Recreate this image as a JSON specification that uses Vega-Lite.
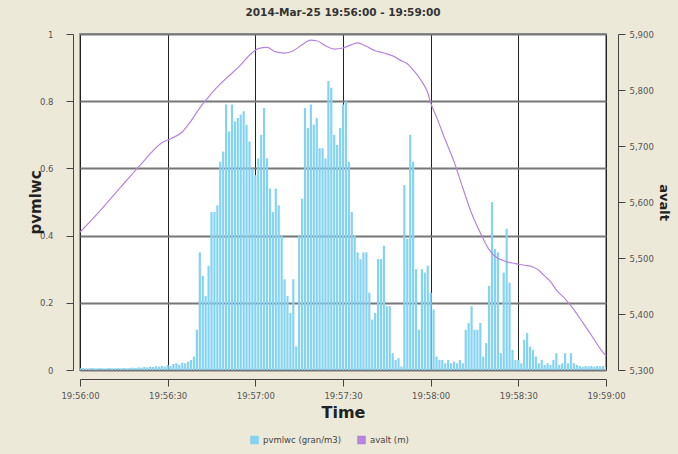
{
"$schema": "https://vega.github.io/schema/vega-lite/v6.json",
"width": 526,
"height": 336,
"autosize": {"type": "none"},
"padding": {"left": 80, "top": 34, "right": 72, "bottom": 84},
"background": "#ECE9D8",
"title": {"text": "2014-Mar-25 19:56:00 - 19:59:00", "fontSize": 10.5, "fontWeight": "bold", "font": "DejaVu Sans", "color": "#333", "offset": 12, "anchor": "middle"},
"config": {
  "view": {"fill": "white", "stroke": "#999", "strokeWidth": 2},
  "font": "DejaVu Sans",
  "axis": {"labelFont": "DejaVu Sans", "titleFont": "DejaVu Sans", "domainColor": "#444", "tickColor": "#444"}
},
"datasets": {
"pv": [
{"t":"2014-03-25T19:56:00","v":0.005},{"t":"2014-03-25T19:56:01","v":0.006},{"t":"2014-03-25T19:56:02","v":0.005},{"t":"2014-03-25T19:56:03","v":0.005},{"t":"2014-03-25T19:56:04","v":0.006},{"t":"2014-03-25T19:56:05","v":0.005},{"t":"2014-03-25T19:56:06","v":0.005},{"t":"2014-03-25T19:56:07","v":0.006},{"t":"2014-03-25T19:56:08","v":0.005},{"t":"2014-03-25T19:56:09","v":0.005},
{"t":"2014-03-25T19:56:10","v":0.006},{"t":"2014-03-25T19:56:11","v":0.005},{"t":"2014-03-25T19:56:12","v":0.005},{"t":"2014-03-25T19:56:13","v":0.006},{"t":"2014-03-25T19:56:14","v":0.005},{"t":"2014-03-25T19:56:15","v":0.006},{"t":"2014-03-25T19:56:16","v":0.005},{"t":"2014-03-25T19:56:17","v":0.006},{"t":"2014-03-25T19:56:18","v":0.007},{"t":"2014-03-25T19:56:19","v":0.006},
{"t":"2014-03-25T19:56:20","v":0.008},{"t":"2014-03-25T19:56:21","v":0.007},{"t":"2014-03-25T19:56:22","v":0.009},{"t":"2014-03-25T19:56:23","v":0.008},{"t":"2014-03-25T19:56:24","v":0.01},{"t":"2014-03-25T19:56:25","v":0.009},{"t":"2014-03-25T19:56:26","v":0.011},{"t":"2014-03-25T19:56:27","v":0.01},{"t":"2014-03-25T19:56:28","v":0.012},{"t":"2014-03-25T19:56:29","v":0.01},
{"t":"2014-03-25T19:56:30","v":0.015},{"t":"2014-03-25T19:56:31","v":0.012},{"t":"2014-03-25T19:56:32","v":0.018},{"t":"2014-03-25T19:56:33","v":0.02},{"t":"2014-03-25T19:56:34","v":0.016},{"t":"2014-03-25T19:56:35","v":0.022},{"t":"2014-03-25T19:56:36","v":0.02},{"t":"2014-03-25T19:56:37","v":0.025},{"t":"2014-03-25T19:56:38","v":0.03},{"t":"2014-03-25T19:56:39","v":0.04},
{"t":"2014-03-25T19:56:40","v":0.12},{"t":"2014-03-25T19:56:41","v":0.35},{"t":"2014-03-25T19:56:42","v":0.28},{"t":"2014-03-25T19:56:43","v":0.22},{"t":"2014-03-25T19:56:44","v":0.31},{"t":"2014-03-25T19:56:45","v":0.47},{"t":"2014-03-25T19:56:46","v":0.47},{"t":"2014-03-25T19:56:47","v":0.49},{"t":"2014-03-25T19:56:48","v":0.62},{"t":"2014-03-25T19:56:49","v":0.65},
{"t":"2014-03-25T19:56:50","v":0.79},{"t":"2014-03-25T19:56:51","v":0.71},{"t":"2014-03-25T19:56:52","v":0.79},{"t":"2014-03-25T19:56:53","v":0.74},{"t":"2014-03-25T19:56:54","v":0.75},{"t":"2014-03-25T19:56:55","v":0.76},{"t":"2014-03-25T19:56:56","v":0.77},{"t":"2014-03-25T19:56:57","v":0.73},{"t":"2014-03-25T19:56:58","v":0.68},{"t":"2014-03-25T19:56:59","v":0.6},
{"t":"2014-03-25T19:57:00","v":0.58},{"t":"2014-03-25T19:57:01","v":0.63},{"t":"2014-03-25T19:57:02","v":0.7},{"t":"2014-03-25T19:57:03","v":0.78},{"t":"2014-03-25T19:57:04","v":0.63},{"t":"2014-03-25T19:57:05","v":0.54},{"t":"2014-03-25T19:57:06","v":0.47},{"t":"2014-03-25T19:57:07","v":0.54},{"t":"2014-03-25T19:57:08","v":0.49},{"t":"2014-03-25T19:57:09","v":0.4},
{"t":"2014-03-25T19:57:10","v":0.27},{"t":"2014-03-25T19:57:11","v":0.22},{"t":"2014-03-25T19:57:12","v":0.17},{"t":"2014-03-25T19:57:13","v":0.27},{"t":"2014-03-25T19:57:14","v":0.07},{"t":"2014-03-25T19:57:15","v":0.4},{"t":"2014-03-25T19:57:16","v":0.51},{"t":"2014-03-25T19:57:17","v":0.78},{"t":"2014-03-25T19:57:18","v":0.72},{"t":"2014-03-25T19:57:19","v":0.79},
{"t":"2014-03-25T19:57:20","v":0.73},{"t":"2014-03-25T19:57:21","v":0.75},{"t":"2014-03-25T19:57:22","v":0.66},{"t":"2014-03-25T19:57:23","v":0.66},{"t":"2014-03-25T19:57:24","v":0.63},{"t":"2014-03-25T19:57:25","v":0.86},{"t":"2014-03-25T19:57:26","v":0.84},{"t":"2014-03-25T19:57:27","v":0.7},{"t":"2014-03-25T19:57:28","v":0.67},{"t":"2014-03-25T19:57:29","v":0.72},
{"t":"2014-03-25T19:57:30","v":0.79},{"t":"2014-03-25T19:57:31","v":0.8},{"t":"2014-03-25T19:57:32","v":0.62},{"t":"2014-03-25T19:57:33","v":0.47},{"t":"2014-03-25T19:57:34","v":0.4},{"t":"2014-03-25T19:57:35","v":0.35},{"t":"2014-03-25T19:57:36","v":0.33},{"t":"2014-03-25T19:57:37","v":0.35},{"t":"2014-03-25T19:57:38","v":0.35},{"t":"2014-03-25T19:57:39","v":0.23},
{"t":"2014-03-25T19:57:40","v":0.15},{"t":"2014-03-25T19:57:41","v":0.17},{"t":"2014-03-25T19:57:42","v":0.33},{"t":"2014-03-25T19:57:43","v":0.33},{"t":"2014-03-25T19:57:44","v":0.37},{"t":"2014-03-25T19:57:45","v":0.19},{"t":"2014-03-25T19:57:46","v":0.19},{"t":"2014-03-25T19:57:47","v":0.05},{"t":"2014-03-25T19:57:48","v":0.03},{"t":"2014-03-25T19:57:49","v":0.035},
{"t":"2014-03-25T19:57:50","v":0.01},{"t":"2014-03-25T19:57:51","v":0.55},{"t":"2014-03-25T19:57:52","v":0.39},{"t":"2014-03-25T19:57:53","v":0.7},{"t":"2014-03-25T19:57:54","v":0.62},{"t":"2014-03-25T19:57:55","v":0.3},{"t":"2014-03-25T19:57:56","v":0.12},{"t":"2014-03-25T19:57:57","v":0.3},{"t":"2014-03-25T19:57:58","v":0.29},{"t":"2014-03-25T19:57:59","v":0.31},
{"t":"2014-03-25T19:58:00","v":0.23},{"t":"2014-03-25T19:58:01","v":0.18},{"t":"2014-03-25T19:58:02","v":0.04},{"t":"2014-03-25T19:58:03","v":0.03},{"t":"2014-03-25T19:58:04","v":0.03},{"t":"2014-03-25T19:58:05","v":0.02},{"t":"2014-03-25T19:58:06","v":0.03},{"t":"2014-03-25T19:58:07","v":0.02},{"t":"2014-03-25T19:58:08","v":0.025},{"t":"2014-03-25T19:58:09","v":0.02},
{"t":"2014-03-25T19:58:10","v":0.03},{"t":"2014-03-25T19:58:11","v":0.02},{"t":"2014-03-25T19:58:12","v":0.12},{"t":"2014-03-25T19:58:13","v":0.14},{"t":"2014-03-25T19:58:14","v":0.19},{"t":"2014-03-25T19:58:15","v":0.12},{"t":"2014-03-25T19:58:16","v":0.12},{"t":"2014-03-25T19:58:17","v":0.14},{"t":"2014-03-25T19:58:18","v":0.04},{"t":"2014-03-25T19:58:19","v":0.08},
{"t":"2014-03-25T19:58:20","v":0.25},{"t":"2014-03-25T19:58:21","v":0.5},{"t":"2014-03-25T19:58:22","v":0.36},{"t":"2014-03-25T19:58:23","v":0.35},{"t":"2014-03-25T19:58:24","v":0.05},{"t":"2014-03-25T19:58:25","v":0.29},{"t":"2014-03-25T19:58:26","v":0.42},{"t":"2014-03-25T19:58:27","v":0.26},{"t":"2014-03-25T19:58:28","v":0.06},{"t":"2014-03-25T19:58:29","v":0.03},
{"t":"2014-03-25T19:58:30","v":0.03},{"t":"2014-03-25T19:58:31","v":0.02},{"t":"2014-03-25T19:58:32","v":0.09},{"t":"2014-03-25T19:58:33","v":0.11},{"t":"2014-03-25T19:58:34","v":0.07},{"t":"2014-03-25T19:58:35","v":0.06},{"t":"2014-03-25T19:58:36","v":0.04},{"t":"2014-03-25T19:58:37","v":0.02},{"t":"2014-03-25T19:58:38","v":0.03},{"t":"2014-03-25T19:58:39","v":0.015},
{"t":"2014-03-25T19:58:40","v":0.02},{"t":"2014-03-25T19:58:41","v":0.015},{"t":"2014-03-25T19:58:42","v":0.03},{"t":"2014-03-25T19:58:43","v":0.05},{"t":"2014-03-25T19:58:44","v":0.015},{"t":"2014-03-25T19:58:45","v":0.02},{"t":"2014-03-25T19:58:46","v":0.05},{"t":"2014-03-25T19:58:47","v":0.02},{"t":"2014-03-25T19:58:48","v":0.05},{"t":"2014-03-25T19:58:49","v":0.02},
{"t":"2014-03-25T19:58:50","v":0.015},{"t":"2014-03-25T19:58:51","v":0.012},{"t":"2014-03-25T19:58:52","v":0.01},{"t":"2014-03-25T19:58:53","v":0.012},{"t":"2014-03-25T19:58:54","v":0.011},{"t":"2014-03-25T19:58:55","v":0.012},{"t":"2014-03-25T19:58:56","v":0.01},{"t":"2014-03-25T19:58:57","v":0.012},{"t":"2014-03-25T19:58:58","v":0.011},{"t":"2014-03-25T19:58:59","v":0.012},
{"t":"2014-03-25T19:59:00","v":0.01}
],
"alt": [
{"t":"2014-03-25T19:56:00","a":5546},{"t":"2014-03-25T19:56:07","a":5585},{"t":"2014-03-25T19:56:14","a":5627},{"t":"2014-03-25T19:56:21","a":5668},{"t":"2014-03-25T19:56:28","a":5706},{"t":"2014-03-25T19:56:31","a":5713},{"t":"2014-03-25T19:56:35","a":5725},{"t":"2014-03-25T19:56:38","a":5745},{"t":"2014-03-25T19:56:41","a":5768},{"t":"2014-03-25T19:56:45","a":5794},{"t":"2014-03-25T19:56:48","a":5811},{"t":"2014-03-25T19:56:52","a":5830},{"t":"2014-03-25T19:56:55","a":5845},{"t":"2014-03-25T19:56:58","a":5862},
{"t":"2014-03-25T19:57:01","a":5874},{"t":"2014-03-25T19:57:04","a":5876},{"t":"2014-03-25T19:57:07","a":5868},{"t":"2014-03-25T19:57:10","a":5866},{"t":"2014-03-25T19:57:13","a":5870},{"t":"2014-03-25T19:57:16","a":5881},{"t":"2014-03-25T19:57:19","a":5889},{"t":"2014-03-25T19:57:21","a":5888},{"t":"2014-03-25T19:57:24","a":5879},{"t":"2014-03-25T19:57:27","a":5873},{"t":"2014-03-25T19:57:30","a":5875},{"t":"2014-03-25T19:57:33","a":5881},{"t":"2014-03-25T19:57:35","a":5884},{"t":"2014-03-25T19:57:38","a":5878},{"t":"2014-03-25T19:57:41","a":5870},{"t":"2014-03-25T19:57:44","a":5866},{"t":"2014-03-25T19:57:47","a":5861},{"t":"2014-03-25T19:57:50","a":5852},{"t":"2014-03-25T19:57:52","a":5847},{"t":"2014-03-25T19:57:54","a":5836},{"t":"2014-03-25T19:57:57","a":5815},{"t":"2014-03-25T19:57:59","a":5795},
{"t":"2014-03-25T19:58:00","a":5777},{"t":"2014-03-25T19:58:02","a":5752},{"t":"2014-03-25T19:58:05","a":5711},{"t":"2014-03-25T19:58:08","a":5672},{"t":"2014-03-25T19:58:11","a":5625},{"t":"2014-03-25T19:58:14","a":5580},{"t":"2014-03-25T19:58:17","a":5545},{"t":"2014-03-25T19:58:20","a":5515},{"t":"2014-03-25T19:58:22","a":5503},{"t":"2014-03-25T19:58:25","a":5495},{"t":"2014-03-25T19:58:29","a":5490},{"t":"2014-03-25T19:58:32","a":5487},{"t":"2014-03-25T19:58:35","a":5484},{"t":"2014-03-25T19:58:37","a":5478},{"t":"2014-03-25T19:58:39","a":5468},{"t":"2014-03-25T19:58:41","a":5458},{"t":"2014-03-25T19:58:43","a":5443},{"t":"2014-03-25T19:58:46","a":5427},{"t":"2014-03-25T19:58:49","a":5408},{"t":"2014-03-25T19:58:52","a":5385},{"t":"2014-03-25T19:58:55","a":5362},{"t":"2014-03-25T19:58:58","a":5338},{"t":"2014-03-25T19:59:00","a":5325}
]
},
"layer": [
{
  "data": {"name": "pv"},
  "mark": {"type": "bar", "width": 2.2, "clip": true, "color": "#84D3F3"},
  "encoding": {
    "x": {"field": "t", "type": "temporal",
      "scale": {"padding": 0, "domain": [{"year": 2014, "month": 3, "date": 25, "hours": 19, "minutes": 56}, {"year": 2014, "month": 3, "date": 25, "hours": 19, "minutes": 59}]},
      "axis": {"title": "Time", "format": "%H:%M:%S", "tickCount": 6, "labelFlush": false, "labelFontSize": 8.5, "labelColor": "#555", "titleFontSize": 16, "titleFontWeight": "bold", "titleColor": "#222", "offset": 9, "tickSize": 7, "labelPadding": 5, "titlePadding": 5, "grid": true, "gridColor": "#222", "gridWidth": 1}},
    "y": {"field": "v", "type": "quantitative", "scale": {"domain": [0, 1]},
      "axis": {"title": "pvmlwc", "values": [0, 0.2, 0.4, 0.6, 0.8, 1], "format": "~g", "grid": true, "gridColor": "#777", "gridWidth": 2, "offset": 7, "tickSize": 7, "labelPadding": 13, "labelFontSize": 8.5, "labelColor": "#555", "titleFontSize": 15, "titleFontWeight": "bold", "titleColor": "#222", "titlePadding": -4}},
    "color": {"datum": "pvmlwc (gran/m3)", "type": "nominal",
      "scale": {"domain": ["pvmlwc (gran/m3)", "avalt (m)"], "range": ["#84D3F3", "#B785E0"]},
      "legend": {"orient": "none", "legendX": 170, "legendY": 401, "direction": "horizontal", "title": null, "symbolType": "square", "symbolSize": 50, "labelFontSize": 8.5, "labelColor": "#444", "columnPadding": 12}}
  }
},
{
  "data": {"name": "alt"},
  "mark": {"type": "line", "interpolate": "monotone", "strokeWidth": 1.2},
  "encoding": {
    "x": {"field": "t", "type": "temporal"},
    "y": {"field": "a", "type": "quantitative", "scale": {"domain": [5300, 5900]},
      "axis": {"orient": "right", "title": "avalt", "values": [5300, 5400, 5500, 5600, 5700, 5800, 5900], "format": ",.0f", "grid": false, "offset": 12, "tickSize": 7, "labelPadding": 4, "labelFontSize": 8.5, "labelColor": "#555", "titleFontSize": 13, "titleFontWeight": "bold", "titleColor": "#222", "titlePadding": 3}},
    "color": {"datum": "avalt (m)", "type": "nominal"}
  }
}
],
"resolve": {"scale": {"y": "independent"}}
}
